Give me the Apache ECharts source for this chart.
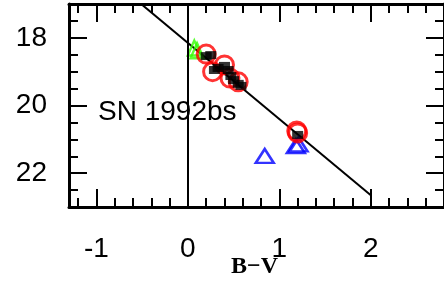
<!DOCTYPE html>
<html>
<head>
<meta charset="utf-8">
<script src="https://cdn.jsdelivr.net/npm/echarts@6/dist/echarts.min.js"></script>
<style>
html, body { margin: 0; padding: 0; background: #fff; }
#chart { width: 444px; height: 286px; }
</style>
</head>
<body>
<div id="chart"></div>
<script>
// axis ranges and ticks
var xMin = -1.3, xMax = 2.8;
var yMin = 17, yMax = 23;
var xMajorTicks = [-1, 0, 1, 2];
var xMinorTicks = [-1.2, -0.8, -0.6, -0.4, -0.2, 0.2, 0.4, 0.6, 0.8, 1.2, 1.4, 1.6, 1.8, 2.2, 2.4, 2.6];
var yMajorTicks = [18, 20, 22];
var yMinorTicks = [17.5, 18.5, 19, 19.5, 20.5, 21, 21.5, 22.5];

// photometry (B-V, V)
var blackX = [0.20, 0.25, 0.29, 0.33, 0.40, 0.44, 0.47, 0.50, 0.55, 0.58, 1.20];
var blackY = [18.54, 18.51, 18.95, 18.89, 18.83, 18.95, 19.13, 19.25, 19.36, 19.42, 20.87];
var redX = [0.20, 0.27, 0.40, 0.46, 0.55, 1.20, 1.19];
var redY = [18.48, 19.00, 18.80, 19.19, 19.30, 20.81, 20.75];
var greenX = [0.07, 0.10];
var greenY = [18.30, 18.38];
var blueX = [0.84, 1.18, 1.21];
var blueY = [21.49, 21.20, 21.15];

// reference line
var fitIntercept = 18.15, fitSlope = 2.25;
var fitRange = [-0.55, 2];

function pairs(xs, ys) {
	var out = [];
	for (var i = 0; i < xs.length; i++) out.push([xs[i], ys[i]]);
	return out;
}

var font = 'Liberation Sans, Arial, sans-serif';

function xAxisDef(pos, major) {
	return {
		type : 'value',
		position : pos,
		min : xMin,
		max : xMax,
		axisLine : { show : major, onZero : false, lineStyle : { color : '#000', width : 3 } },
		axisTick : {
			inside : true,
			length : major ? 18 : 9,
			customValues : major ? xMajorTicks : xMinorTicks,
			lineStyle : { color : '#000', width : 2 }
		},
		axisLabel : {
			show : major && pos === 'bottom',
			customValues : xMajorTicks,
			color : '#000',
			fontSize : 28,
			fontFamily : font,
			margin : 28
		},
		splitLine : { show : false }
	};
}

function yAxisDef(pos, major) {
	return {
		type : 'value',
		position : pos,
		inverse : true,
		min : yMin,
		max : yMax,
		axisLine : { show : major, onZero : false, lineStyle : { color : '#000', width : 3 } },
		axisTick : {
			inside : true,
			length : major ? 18 : 9,
			customValues : major ? yMajorTicks : yMinorTicks,
			lineStyle : { color : '#000', width : 2 }
		},
		axisLabel : {
			show : major && pos === 'left',
			customValues : yMajorTicks,
			color : '#000',
			fontSize : 28,
			fontFamily : font,
			margin : 22
		},
		splitLine : { show : false }
	};
}

var myChart = echarts.init(document.getElementById('chart'));
var option = {
	animation : false,
	backgroundColor : '#fff',
	grid : { left : 69, top : 4, width : 380, height : 203 },
	xAxis : [ xAxisDef('bottom', true), xAxisDef('bottom', false), xAxisDef('top', true), xAxisDef('top', false) ],
	yAxis : [ yAxisDef('left', true), yAxisDef('left', false), yAxisDef('right', true), yAxisDef('right', false) ],
	graphic : [ {
		type : 'text',
		left : 98,
		top : 98,
		style : { text : 'SN 1992bs', fill : '#000', fontSize : 28, fontFamily : font }
	}, {
		type : 'text',
		left : 231,
		top : 255,
		style : { text : 'B\u2212V', fill : '#000', fontSize : 24, fontWeight : 'bold', fontFamily : 'Liberation Serif, serif' }
	} ],
	series : [ {
		type : 'line',
		data : fitRange.map(function (x) { return [x, fitIntercept + fitSlope * x]; }),
		symbol : 'none',
		lineStyle : { color : '#000', width : 2 },
		markLine : {
			silent : true,
			symbol : 'none',
			label : { show : false },
			lineStyle : { color : '#000', width : 2, type : 'solid' },
			data : [ { xAxis : 0 } ]
		},
		z : 1
	}, {
		type : 'scatter',
		data : pairs(greenX, greenY),
		symbol : 'triangle',
		symbolSize : [13, 15],
		itemStyle : { color : 'transparent', borderColor : '#33ff00', borderWidth : 2.5 },
		z : 2
	}, {
		type : 'scatter',
		data : pairs(blueX, blueY),
		symbol : 'triangle',
		symbolSize : [18, 14],
		itemStyle : { color : 'transparent', borderColor : '#0000ff', borderWidth : 2.5 },
		z : 3
	}, {
		type : 'scatter',
		data : pairs(redX, redY),
		symbol : 'circle',
		symbolSize : 18,
		itemStyle : { color : 'transparent', borderColor : '#ff0000', borderWidth : 3 },
		z : 4
	}, {
		type : 'scatter',
		data : pairs(blackX, blackY),
		symbol : 'rect',
		symbolSize : [11, 8],
		itemStyle : { color : '#000' },
		z : 5
	} ]
};
myChart.setOption(option);
</script>
</body>
</html>
